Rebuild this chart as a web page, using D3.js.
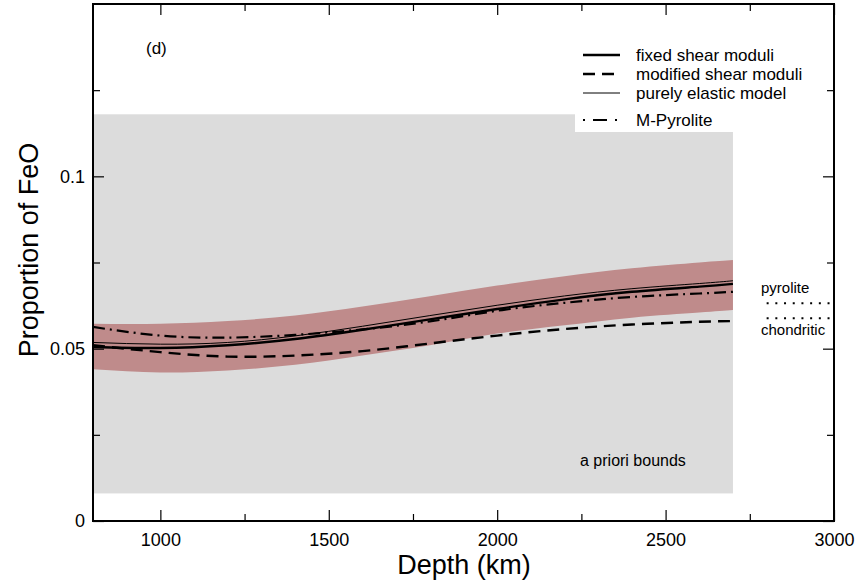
<!DOCTYPE html>
<html><head><meta charset="utf-8">
<script src="https://cdn.jsdelivr.net/npm/d3@7"></script>
<style>body{margin:0;background:#fff;} svg{display:block;font-family:"Liberation Sans",Arial,sans-serif;}</style>
</head><body>
<svg id="c" width="860" height="582"></svg>
<script>
const depth = [800,1000,1200,1400,1600,1800,2000,2200,2400,2600,2700];
const fixedShear = [0.0505,0.0502,0.0510,0.0528,0.0555,0.0585,0.0615,0.0643,0.0665,0.0680,0.0688];
const elastic = [0.0518,0.0513,0.0518,0.0537,0.0565,0.0596,0.0626,0.0653,0.0674,0.0689,0.0697];
const modifiedShear = [0.0510,0.0490,0.0477,0.0480,0.0493,0.0515,0.0538,0.0557,0.0570,0.0578,0.0580];
const mPyrolite = [0.0563,0.0538,0.0532,0.0540,0.0556,0.0579,0.0610,0.0633,0.0650,0.0660,0.0665];
const bandUpper = [0.0572,0.0572,0.0580,0.0596,0.0622,0.0652,0.0683,0.0710,0.0733,0.0750,0.0757];
const bandLower = [0.0440,0.0431,0.0437,0.0453,0.0480,0.0510,0.0544,0.0568,0.0590,0.0605,0.0612];
const aprioriDepth = [800,2700];
const aprioriFeO = [0.008,0.118];
const refDepth = [2800,3000];
const pyroliteFeO = 0.0632;
const chondriticFeO = 0.0588;
const xMajor = [1000,1500,2000,2500,3000];
const xMinor = [1250,1750,2250,2750];
const yMajor = [0,0.05,0.1];
const yMinor = [0.025,0.075,0.125];
const legendLabels = ["fixed shear moduli","modified shear moduli","purely elastic model","M-Pyrolite"];

(function(){
const L=93,R=834,T=4,B=521;
const svg=d3.select("#c");
const x=d3.scaleLinear().domain([800,3000]).range([L,R]);
const y=d3.scaleLinear().domain([0,0.15]).range([B,T]);

svg.append("rect").attr("x",x(aprioriDepth[0])).attr("y",y(aprioriFeO[1]))
  .attr("width",x(aprioriDepth[1])-x(aprioriDepth[0])).attr("height",y(aprioriFeO[0])-y(aprioriFeO[1]))
  .attr("fill","#dcdcdc");

const idx=d3.range(depth.length);
const area=d3.area().x(i=>x(depth[i])).y0(i=>y(bandLower[i])).y1(i=>y(bandUpper[i])).curve(d3.curveNatural);
svg.append("path").attr("d",area(idx)).attr("fill","#bf8b8b");

function line(arr){return d3.line().x(i=>x(depth[i])).y(i=>y(arr[i])).curve(d3.curveNatural)(idx);}
const styles=[
 {data:modifiedShear,w:2.4,dash:"12,7"},
 {data:mPyrolite,w:2.2,dash:"12,5,2,5"},
 {data:elastic,w:1,dash:null},
 {data:fixedShear,w:2.4,dash:null}
];
styles.forEach(s=>{
  svg.append("path").attr("d",line(s.data)).attr("fill","none").attr("stroke","#000")
   .attr("stroke-width",s.w).attr("stroke-dasharray",s.dash);
});

[pyroliteFeO,chondriticFeO].forEach(v=>{
  svg.append("line").attr("x1",x(refDepth[0])).attr("x2",x(refDepth[1])).attr("y1",y(v)).attr("y2",y(v))
   .attr("stroke","#000").attr("stroke-width",2).attr("stroke-dasharray","2,6.7");
});
svg.append("text").attr("x",761).attr("y",293).attr("font-size",15).text("pyrolite");
svg.append("text").attr("x",761).attr("y",335).attr("font-size",15).text("chondritic");
svg.append("text").attr("x",580).attr("y",466).attr("font-size",16).text("a priori bounds");
svg.append("text").attr("x",146).attr("y",54).attr("font-size",17).text("(d)");

svg.append("rect").attr("x",575).attr("y",40).attr("width",160).attr("height",92).attr("fill","#fff");
const legY=[55,74,93,120];
const legStyle=[{w:2.4,dash:null},{w:2.4,dash:"12,7"},{w:1,dash:null},{w:2.2,dash:"2,8,14,8,2,10"}];
legendLabels.forEach((t,i)=>{
  svg.append("line").attr("x1",583).attr("x2",620).attr("y1",legY[i]).attr("y2",legY[i])
   .attr("stroke","#000").attr("stroke-width",legStyle[i].w).attr("stroke-dasharray",legStyle[i].dash);
  svg.append("text").attr("x",636).attr("y",legY[i]+6).attr("font-size",17).text(t);
});

const ax=svg.append("g");
ax.append("rect").attr("x",L).attr("y",T).attr("width",R-L).attr("height",B-T)
  .attr("fill","none").attr("stroke","#000").attr("stroke-width",2);
function tk(gen,pos,vals,size){
  ax.append("g").attr("transform",pos).call(gen.tickValues(vals).tickSize(size).tickFormat(""));
}
tk(d3.axisTop(x),`translate(0,${B})`,xMajor,11);
tk(d3.axisTop(x),`translate(0,${B})`,xMinor,7);
tk(d3.axisBottom(x),`translate(0,${T})`,xMajor,11);
tk(d3.axisBottom(x),`translate(0,${T})`,xMinor,7);
tk(d3.axisRight(y),`translate(${L},0)`,yMajor,11);
tk(d3.axisRight(y),`translate(${L},0)`,yMinor,7);
tk(d3.axisLeft(y),`translate(${R},0)`,yMajor,11);
tk(d3.axisLeft(y),`translate(${R},0)`,yMinor,7);
ax.selectAll(".domain").remove();
ax.selectAll(".tick line").attr("stroke","#000").attr("stroke-width",1.2);

const xl=svg.append("g").attr("transform",`translate(0,${B})`)
  .call(d3.axisBottom(x).tickValues(xMajor).tickSize(0).tickPadding(12).tickFormat(d3.format("d")));
xl.select(".domain").remove();
xl.selectAll("text").attr("font-size",18).attr("font-family","Liberation Sans, Arial, sans-serif").attr("fill","#000");
const yl=svg.append("g").attr("transform",`translate(${L},0)`)
  .call(d3.axisLeft(y).tickValues(yMajor).tickSize(0).tickPadding(8).tickFormat(d=>d===0?"0":String(d)));
yl.select(".domain").remove();
yl.selectAll("text").attr("font-size",18).attr("font-family","Liberation Sans, Arial, sans-serif").attr("fill","#000");

svg.append("text").attr("x",464).attr("y",574).attr("text-anchor","middle").attr("font-size",27).text("Depth (km)");
svg.append("text").attr("transform",`translate(38,250) rotate(-90)`).attr("text-anchor","middle").attr("font-size",27).text("Proportion of FeO");
})();
</script>
</body></html>
